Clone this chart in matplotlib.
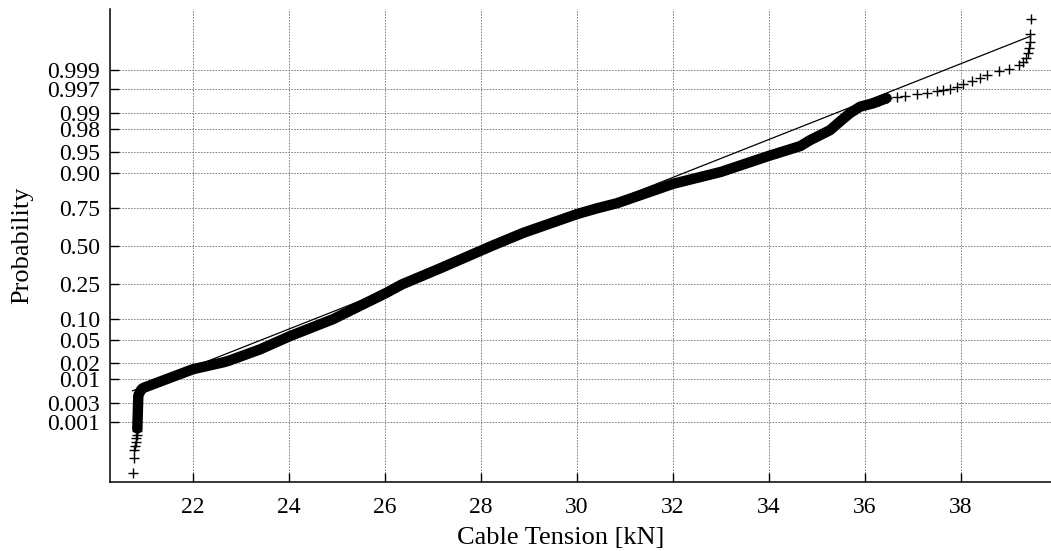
import numpy as np
import matplotlib
matplotlib.use("Agg")
import matplotlib.pyplot as plt
from statistics import NormalDist

# sorted cable tension samples
# dense middle part (drawn as a thick band)
body_kn = [20.84, 20.85, 20.86, 20.92, 20.96, 21.46, 22.00, 22.63, 22.75, 23.40,
           24.02, 24.92, 26.03, 26.35, 27.15, 28.22, 28.88, 30.00, 30.41, 30.83,
           32.00, 33.00, 34.00, 34.65, 34.85, 35.27, 35.48, 35.69, 35.90, 36.17, 36.45]
body_p = [0.00069, 0.00187, 0.0044, 0.0059, 0.0064, 0.0099, 0.0154, 0.0207, 0.0222, 0.0351,
          0.0571, 0.100, 0.206, 0.250, 0.348, 0.500, 0.591, 0.712, 0.745, 0.773,
          0.862, 0.903, 0.943, 0.960, 0.968, 0.9788, 0.9855, 0.9901, 0.9927, 0.9938, 0.9952]

# single points in the tails
low_kn = [20.74, 20.76, 20.77, 20.79, 20.81, 20.81, 20.83, 20.83, 20.84]
low_p = [3.45e-5, 9.96e-5, 1.72e-4, 2.24e-4, 3.02e-4, 3.76e-4, 4.66e-4, 5.77e-4, 6.87e-4]

top_kn = [36.30, 36.45, 36.66, 36.83, 37.08, 37.29, 37.49, 37.63, 37.77, 37.91, 38.05, 38.22, 38.40,
          38.54, 38.80, 38.99, 39.20, 39.30, 39.36, 39.39, 39.41, 39.43, 39.44, 39.45]
top_p = [0.9945, 0.9952, 0.9956, 0.9957, 0.9961, 0.9964, 0.9967, 0.9968, 0.9971, 0.9974, 0.9977,
         0.9981, 0.9984, 0.99865, 0.99893, 0.99906, 0.99924, 0.99938, 0.99950, 0.99964, 0.99974,
         0.99983, 0.99990, 0.999966]

# quartiles used for the reference line
q1_kn, q3_kn = 26.35, 30.41

x_ticks = [22, 24, 26, 28, 30, 32, 34, 36, 38]
tick_p = [0.001, 0.003, 0.01, 0.02, 0.05, 0.10, 0.25, 0.50, 0.75, 0.90, 0.95, 0.98, 0.99, 0.997, 0.999]
tick_labels = ["0.001", "0.003", "0.01", "0.02", "0.05", "0.10", "0.25", "0.50",
               "0.75", "0.90", "0.95", "0.98", "0.99", "0.997", "0.999"]

nd = NormalDist()


def q(p):
    return np.array([nd.inv_cdf(v) for v in p])


plt.rcParams["font.family"] = ["Liberation Serif", "DejaVu Serif"]

fig = plt.figure(figsize=(10.51, 5.51), dpi=100)
ax = fig.add_axes([110 / 1051, 69 / 551, 941 / 1051, 473 / 551])

# data
ax.plot(body_kn, q(body_p), "-", color="k", lw=7.5, solid_capstyle="round", solid_joinstyle="round")
ax.plot(low_kn, q(low_p), "+", color="k", ms=7, mew=1)
ax.plot(top_kn, q(top_p), "+", color="k", ms=7, mew=1)

# reference line through the quartiles, extended to the data range
z1, z3 = nd.inv_cdf(0.25), nd.inv_cdf(0.75)
slope = (z3 - z1) / (q3_kn - q1_kn)
ends = np.array([min(low_kn), max(top_kn)])
ax.plot(ends, z1 + slope * (ends - q1_kn), "-", color="k", lw=0.9)

ax.set_xlim(20.27, 39.875)
ax.set_ylim(-4.137, 4.154)
ax.set_xticks(x_ticks)
ax.set_yticks(q(tick_p))
ax.set_yticklabels(tick_labels)

ax.grid(True, color="0.45", linestyle=(0, (2, 1.5)), lw=0.6)
ax.spines["top"].set_visible(False)
ax.spines["right"].set_visible(False)
for s in ["left", "bottom"]:
    ax.spines[s].set_linewidth(1.1)
ax.tick_params(direction="in", length=6.5, width=1.0, labelsize=17)
ax.tick_params(axis="x", pad=10.5)
ax.tick_params(axis="y", pad=7)

ax.set_xlabel("Cable Tension [kN]", fontsize=19)
ax.set_ylabel("Probability", fontsize=19)
ax.xaxis.set_label_coords(0.479, -0.096)
ax.yaxis.set_label_coords(-0.082, 0.5)

fig.savefig("out.png", dpi=100)
